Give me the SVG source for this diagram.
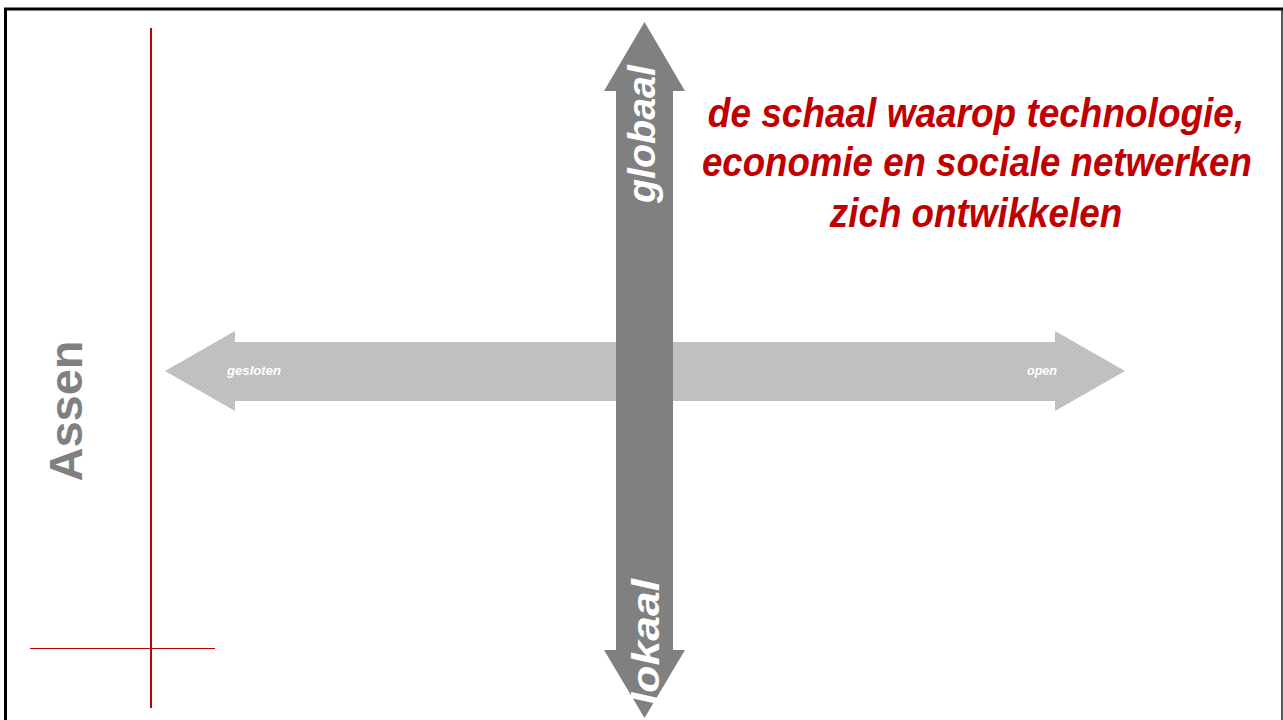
<svg xmlns="http://www.w3.org/2000/svg" width="1283" height="720" viewBox="0 0 1283 720">
  <defs>
    <pattern id="chk" width="4" height="4" patternUnits="userSpaceOnUse">
      <rect width="4" height="4" fill="#c3c3c3"/>
      <rect width="2" height="2" fill="#bdbdbd"/>
      <rect x="2" y="2" width="2" height="2" fill="#bdbdbd"/>
    </pattern>
  </defs>
  <style>
    .red { stroke: #c00000; fill: none; }
    .lbl { font-family: "Liberation Sans", Arial, sans-serif; font-weight: bold; font-style: italic; fill: #ffffff; }
    .title { font-family: "Liberation Sans", Arial, sans-serif; font-weight: bold; font-style: italic; fill: #c00000; font-size: 40px; text-anchor: middle; }
  </style>
  <rect width="1283" height="720" fill="#ffffff"/>
  <g id="frame">
    <path d="M5.5 720 V9 H1283" fill="none" stroke="#000" stroke-width="3"/>
    <path d="M1282 9 V720" fill="none" stroke="#222" stroke-width="1.5"/>
  </g>
  <g id="guides">
    <line class="red" x1="151" y1="28" x2="151" y2="708" stroke-width="2"/>
    <line class="red" x1="30" y1="648.5" x2="215" y2="648.5" stroke-width="1.2"/>
  </g>
  <g id="assen">
    <text transform="translate(82 411) rotate(-90)" text-anchor="middle" font-family="Liberation Sans, Arial, sans-serif" font-weight="bold" font-size="47" fill="#808080">Assen</text>
  </g>
  <g id="axis-horizontal">
    <polygon points="165,371 235,331 235,342 1055,342 1055,331 1125,371 1055,411 1055,401 235,401 235,411" fill="url(#chk)"/>
    <text class="lbl" x="254" y="375" font-size="12" text-anchor="middle" textLength="54" lengthAdjust="spacingAndGlyphs">gesloten</text>
    <text class="lbl" x="1042" y="375" font-size="12" text-anchor="middle" textLength="30" lengthAdjust="spacingAndGlyphs">open</text>
  </g>
  <g id="axis-vertical">
    <polygon points="644.5,22 685,91 673,91 673,650 685,650 644.5,718 604,650 616,650 616,91 604,91" fill="#808080"/>
    <text class="lbl" transform="translate(655 134) rotate(-90)" font-size="38" text-anchor="middle" textLength="138" lengthAdjust="spacingAndGlyphs">globaal</text>
    <text class="lbl" transform="translate(659 642) rotate(-90)" font-size="38" text-anchor="middle" textLength="126" lengthAdjust="spacingAndGlyphs">lokaal</text>
  </g>
  <g id="title" transform="matrix(0.85 0 0 1 976 0)">
    <text class="title" x="0" y="127" textLength="631" lengthAdjust="spacingAndGlyphs">de schaal waarop technologie,</text>
    <text class="title" x="1" y="176" textLength="647" lengthAdjust="spacingAndGlyphs">economie en sociale netwerken</text>
    <text class="title" x="0" y="227" textLength="344" lengthAdjust="spacingAndGlyphs">zich ontwikkelen</text>
  </g>
</svg>
